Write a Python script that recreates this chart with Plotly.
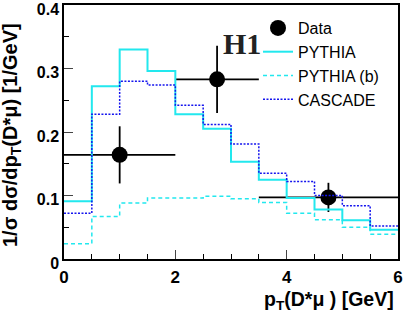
import plotly.graph_objects as go

# bin edges (GeV)
edges = [0, 0.5, 1, 1.5, 2, 2.5, 3, 3.5, 4, 4.5, 5, 5.5, 6]
pythia = [0.091, 0.272, 0.330, 0.296, 0.228, 0.205, 0.153, 0.125, 0.096, 0.078, 0.061, 0.046]
pythia_b = [0.024, 0.067, 0.088, 0.096, 0.096, 0.099, 0.095, 0.089, 0.072, 0.062, 0.050, 0.039]
cascade = [0.072, 0.228, 0.280, 0.274, 0.242, 0.212, 0.181, 0.135, 0.122, 0.100, 0.084, 0.052]

data_x = [1.0, 2.75, 4.75]
data_y = [0.164, 0.283, 0.097]
data_ex = [1.0, 0.75, 1.25]
data_ey = [0.045, 0.053, 0.023]

x_ticks = [0, 2, 4, 6]
y_ticks = [0, 0.1, 0.2, 0.3, 0.4]
y_ticktext = ["0", "0.1", "0.2", "0.3", "0.4"]

font = "Liberation Sans, Arial, sans-serif"
L, R, T, B = 64, 5, 5, 55
W, H = 403, 314
pw, ph = W - L - R, H - T - B

def px_x(px):
    return (px - L) / pw

def px_y(py):
    return (H - B - py) / ph

fig = go.Figure()

def hist(vals, name, color, dash, width):
    fig.add_trace(go.Scatter(
        x=edges, y=vals + [vals[-1]], mode="lines", line_shape="hv",
        line=dict(color=color, dash=dash, width=width), name=name))

fig.add_trace(go.Scatter(
    x=data_x, y=data_y, mode="markers", name="Data",
    marker=dict(color="black", size=16),
    error_x=dict(type="data", array=data_ex, color="black", thickness=1.8, width=0),
    error_y=dict(type="data", array=data_ey, color="black", thickness=1.8, width=0)))
hist(pythia, "PYTHIA", "#22e8ee", "solid", 2)
hist(pythia_b, "PYTHIA (b)", "#22e8ee", "4px,3px", 1.5)
hist(cascade, "CASCADE", "#1515ee", "2px,1.5px", 1.5)

# H1 logo
fig.add_annotation(x=px_x(242), y=px_y(44), xref="paper", yref="paper",
                   xanchor="center", yanchor="middle",
                   text="<b>H1</b>", showarrow=False,
                   font=dict(family="Liberation Serif, Times New Roman, serif", size=30, color="#222"))
# axis titles
fig.add_annotation(x=px_x(396), y=px_y(300), xref="paper", yref="paper",
                   xanchor="right", yanchor="middle",
                   text="p<sub>T</sub>(D*μ ) [GeV]", showarrow=False,
                   font=dict(family=font, size=19.5, weight="bold", color="black"))
fig.add_annotation(x=px_x(11), y=px_y(135), xref="paper", yref="paper",
                   xanchor="center", yanchor="middle", textangle=-90,
                   text="1/σ dσ/dp<sub>T</sub>(D*μ) [1/GeV]", showarrow=False,
                   font=dict(family=font, size=20, weight="bold", color="black"))

fig.update_layout(
    width=W, height=H,
    margin=dict(l=L, r=R, t=T, b=B, autoexpand=False),
    paper_bgcolor="white", plot_bgcolor="white",
    showlegend=True,
    legend=dict(x=px_x(258), y=px_y(11), xanchor="left", yanchor="top",
                bgcolor="rgba(0,0,0,0)",
                font=dict(family=font, size=16, color="black"), tracegroupgap=0,
                itemwidth=30),
    font=dict(family=font, color="black"),
)
fig.update_xaxes(range=[0, 6], tickvals=x_ticks, ticks="inside", ticklen=9, tickwidth=1.2,
                 minor=dict(dtick=0.5, ticks="inside", ticklen=5, tickcolor="black"),
                 showgrid=False, zeroline=False, showline=True, linecolor="black", linewidth=1.5,
                 mirror=True, automargin=False, ticklabelstandoff=2, ticklabeloverflow="allow",
                 tickfont=dict(family=font, size=17, weight="bold"))
fig.update_yaxes(range=[0, 0.4], tickvals=y_ticks, ticktext=y_ticktext,
                 ticks="inside", ticklen=9, tickwidth=1.2, ticklabelshift=4,
                 ticklabeloverflow="allow",
                 minor=dict(dtick=0.05, ticks="inside", ticklen=5, tickcolor="black"),
                 showgrid=False, zeroline=False, showline=True, linecolor="black", linewidth=1.5,
                 mirror=True, automargin=False, tickfont=dict(family=font, size=16, weight="bold"))

fig.write_html("out.html", config={"displayModeBar": False},
               post_script="document.body.style.margin='0';document.body.style.overflow='hidden';")
